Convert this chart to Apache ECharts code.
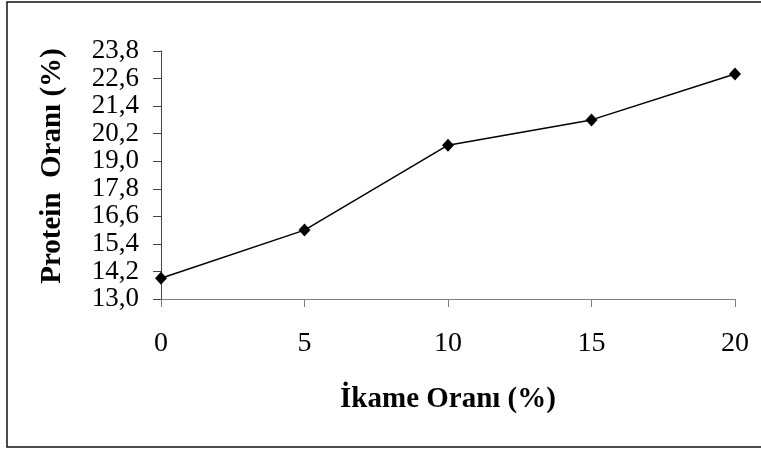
<!DOCTYPE html>
<html>
<head>
<meta charset="utf-8">
<script src="https://cdn.jsdelivr.net/npm/echarts@6/dist/echarts.min.js"></script>
<style>
  html, body { margin: 0; padding: 0; background: #fff; }
  #chart { width: 761px; height: 449px; }
</style>
</head>
<body>
<div id="chart"></div>
<script>
// Substitution rate (%) and measured protein content (%)
const ikameOrani = ['0', '5', '10', '15', '20'];
const proteinOrani = [13.9, 16.0, 19.7, 20.8, 22.8];
const yMin = 13.0;
const yMax = 23.8;
const yStep = 1.2;

const serif = '"Liberation Serif", "Times New Roman", serif';

const chart = echarts.init(document.getElementById('chart'));
chart.setOption({
  animation: false,
  backgroundColor: '#fff',
  grid: { left: 161, right: 26, top: 51, bottom: 150, containLabel: false },
  graphic: [{
    type: 'rect',
    silent: true,
    shape: { x: 7, y: 2, width: 760, height: 445 },
    style: { fill: 'none', stroke: '#111', lineWidth: 1.5 }
  }],
  xAxis: {
    type: 'category',
    data: ikameOrani,
    boundaryGap: false,
    name: 'İkame Oranı (%)',
    nameLocation: 'middle',
    nameGap: 86,
    nameTextStyle: { fontFamily: serif, fontSize: 29, fontWeight: 'bold', color: '#000' },
    axisLine: { lineStyle: { color: '#808080', width: 1 } },
    axisTick: { show: true, inside: false, length: 8, alignWithLabel: true, lineStyle: { color: '#808080' } },
    axisLabel: { fontFamily: serif, fontSize: 28, color: '#000', margin: 31 },
    splitLine: { show: false }
  },
  yAxis: {
    type: 'value',
    min: yMin,
    max: yMax,
    interval: yStep,
    name: 'Protein  Oranı (%)',
    nameLocation: 'middle',
    nameGap: 94,
    nameTextStyle: { fontFamily: serif, fontSize: 29, fontWeight: 'bold', color: '#000', padding: [0, 0, 0, 18] },
    axisLine: { show: true, lineStyle: { color: '#444', width: 1 } },
    axisTick: { show: true, inside: false, length: 8, lineStyle: { color: '#444' } },
    axisLabel: {
      fontFamily: serif, fontSize: 27, color: '#000', margin: 22,
      formatter: v => v.toFixed(1).replace('.', ',')
    },
    splitLine: { show: false }
  },
  series: [{
    type: 'line',
    data: proteinOrani,
    symbol: 'diamond',
    symbolSize: [12, 13],
    lineStyle: { color: '#000', width: 1.5 },
    itemStyle: { color: '#000' }
  }]
});
</script>
</body>
</html>
